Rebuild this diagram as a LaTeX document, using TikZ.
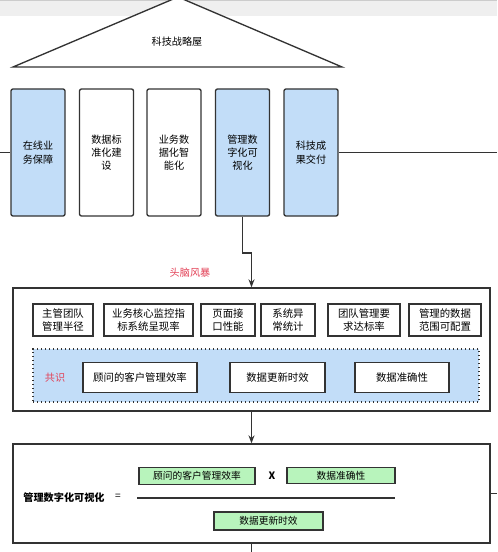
\documentclass[tikz,border=0pt]{standalone}
\usepackage{fontspec}
\newfontfamily\cjk{Noto Sans CJK SC}
\usetikzlibrary{arrows.meta}
\definecolor{pillarblue}{RGB}{194,221,248}
\definecolor{mintgreen}{RGB}{184,244,188}
\definecolor{edgegray}{RGB}{51,51,51}
\definecolor{notered}{RGB}{226,64,86}
\definecolor{bargray}{RGB}{239,239,239}
\begin{document}
\begin{tikzpicture}
		[x=0.75pt,y=-0.75pt,
		pillar/.style={draw=edgegray,line width=1pt,rounded corners=1.5pt,
			minimum width=40.5pt,minimum height=95.25pt,inner sep=0pt,
			align=center,font=\cjk\fontsize{7.6}{10}\selectfont},
		frame/.style={draw=edgegray,line width=1pt,minimum width=357.75pt,inner sep=0pt},
		idea/.style={draw=edgegray,line width=0.9pt,minimum height=24pt,inner sep=0pt,
			align=center,font=\cjk\fontsize{7.8}{10}\selectfont},
		goal/.style={draw=edgegray,line width=0.9pt,fill=white,minimum height=22.5pt,
			inner sep=0pt,font=\cjk\fontsize{7.8}{10}\selectfont},
		term/.style={draw=edgegray,line width=0.9pt,fill=mintgreen,minimum height=12.5pt,
			inner sep=0pt,font=\cjk\fontsize{7.3}{9}\selectfont},
		link/.style={draw=edgegray,line width=1pt}]
		\clip (0,0) rectangle (497,552);
		\fill[bargray] (0,0) rectangle (497,16);
		\draw[gray!40,line width=0.6pt] (0,0.5) -- (497,0.5);
		\filldraw[fill=white,draw=edgegray,line width=1pt] (13,67) -- (178,-3) -- (342,67) -- cycle;
		\node[font=\cjk\fontsize{7.6}{9}\selectfont] (roof) at (177,42) {科技战略屋};
		\node[pillar,fill=pillarblue] (online) at (38,152.5) {在线业\\务保障};
		\node[pillar,fill=white] (datastd) at (106.5,152.5) {数据标\\准化建\\设};
		\node[pillar,fill=white] (bizdata) at (174,152.5) {业务数\\据化智\\能化};
		\node[pillar,fill=pillarblue] (mgmtvis) at (242.5,152.5) {管理数\\字化可\\视化};
		\node[pillar,fill=pillarblue] (delivery) at (311,152.5) {科技成\\果交付};
		\coordinate (leftend) at (0,152.5);
		\coordinate (rightend) at (497,152.5);
		\draw[link] (leftend) -- (online);
		\draw[link] (delivery) -- (rightend);
		\node[text=notered,font=\cjk\fontsize{7.6}{9}\selectfont] (storm) at (190,273) {头脑风暴};
		\node[frame,minimum height=92.25pt] (brainbox) at (251.5,349.5) {};
		\draw[link,-{Stealth[length=6pt,width=4.5pt]}] (mgmtvis.south) |- (251.5,253) -- (brainbox.north);
		\node[idea,minimum width=45pt] (span) at (63,320) {主管团队\\管理半径};
		\node[idea,minimum width=66.75pt] (monitor) at (148.5,320) {业务核心监控指\\标系统呈现率};
		\node[idea,minimum width=40.5pt] (pageapi) at (228,320) {页面接\\口性能};
		\node[idea,minimum width=40.5pt] (errstat) at (288,320) {系统异\\常统计};
		\node[idea,minimum width=54pt] (teamrate) at (364,320) {团队管理要\\求达标率};
		\node[idea,minimum width=54pt] (scope) at (445,320) {管理的数据\\范围可配置};
		\node[draw=edgegray,dotted,line width=1pt,fill=pillarblue,minimum width=334.5pt,
			minimum height=39.75pt,inner sep=0pt] (consensus) at (256,375.5) {};
		\node[text=notered,font=\cjk\fontsize{7.6}{9}\selectfont] (agree) at (55,378) {共识};
		\node[goal,minimum width=85.5pt] (clientrate) at (140,377.5) {顾问的客户管理效率};
		\node[goal,minimum width=71.25pt] (timely) at (277.5,377.5) {数据更新时效};
		\node[goal,minimum width=70.5pt] (accuracy) at (402,377.5) {数据准确性};
		\node[frame,minimum height=74.25pt] (formulabox) at (251.5,493.5) {};
		\draw[link,-{Stealth[length=6pt,width=4.5pt]}] (brainbox.south) -- (formulabox.north);
		\coordinate (sideend) at (497,493.5);
		\coordinate (downend) at (251.5,552);
		\draw[link] (formulabox.east) -- (sideend);
		\draw[link] (formulabox.south) -- (downend);
		\node[font=\cjk\bfseries\fontsize{7.6}{9}\selectfont] (metric) at (64,498) {管理数字化可视化};
		\node[font=\cjk\fontsize{7.6}{9}\selectfont] (equals) at (118,497) {=};
		\node[term,minimum width=87pt] (numa) at (197,476) {顾问的客户管理效率};
		\node[font=\cjk\bfseries\fontsize{7.6}{9}\selectfont] (times) at (272,476) {X};
		\node[term,minimum width=81pt] (numb) at (341,475.5) {数据准确性};
		\draw[edgegray,line width=1pt] (137,498) -- (395,498);
		\node[term,minimum width=81.75pt,minimum height=13.5pt] (denom) at (268.5,521) {数据更新时效};
	\end{tikzpicture}
\end{document}
